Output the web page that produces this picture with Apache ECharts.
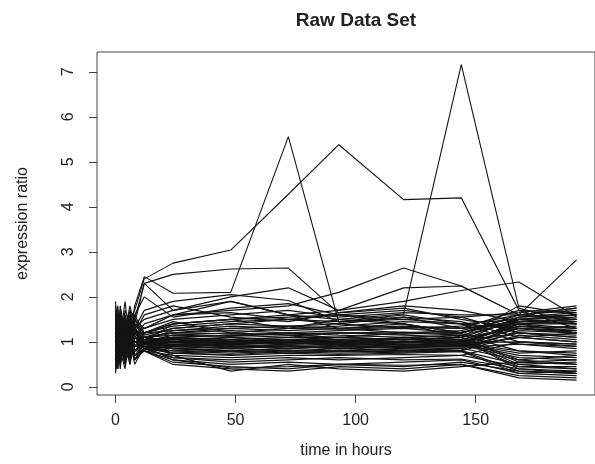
<!DOCTYPE html>
<html>
<head>
<meta charset="utf-8">
<script src="https://cdn.jsdelivr.net/npm/echarts@6/dist/echarts.min.js"></script>
<style>
  html, body { margin: 0; padding: 0; background: #fff; }
  #main { width: 595px; height: 464px; }
</style>
</head>
<body>
<div id="main"></div>
<script>
// sampling times (hours)
var times = [0, 1, 2, 4, 6, 8, 12, 24, 48, 72, 93, 120, 144, 168, 192];
var xTicks = [0, 50, 100, 150];
var yTicks = [0, 1, 2, 3, 4, 5, 6, 7];

// outlying profiles
var peak144 = [1.2, 0.8, 1.5, 0.9, 1.3, 1.1, 1.0, 1.4, 1.5, 1.3, 1.5, 1.62, 7.16, 1.75, 1.4];
var peak72  = [0.9, 1.4, 0.7, 1.6, 1.0, 1.8, 2.45, 2.08, 2.1, 5.56, 1.44, 1.55, 1.3, 1.4, 1.2];
var peak93  = [1.0, 1.3, 0.8, 1.2, 1.5, 1.7, 2.4, 2.75, 3.04, 4.28, 5.38, 4.16, 4.2, 1.7, 1.3];

// medium profiles
var mid = [
  [1.1, 0.9, 1.6, 1.2, 1.8, 1.4, 2.3, 2.5, 2.62, 2.64, 1.64, 1.75, 1.5, 1.3, 1.2],
  [0.8, 1.2, 1.0, 1.5, 0.9, 1.3, 1.7, 1.9, 2.05, 1.92, 1.45, 1.6, 1.4, 1.5, 1.6],
  [1.0, 0.7, 1.3, 1.1, 0.8, 1.2, 1.3, 1.6, 1.7, 1.8, 2.1, 2.64, 2.24, 1.6, 1.5],
  [1.3, 1.0, 0.8, 1.4, 1.1, 0.9, 1.2, 1.4, 1.5, 1.6, 1.7, 1.9, 2.14, 2.33, 1.56],
  [0.9, 1.1, 1.4, 0.8, 1.2, 1.0, 1.1, 1.3, 1.4, 1.5, 1.6, 1.4, 1.2, 1.6, 2.82],
  [1.5, 1.8, 1.2, 0.9, 1.6, 1.3, 1.5, 1.7, 2.0, 2.2, 1.7, 2.2, 2.24, 1.6, 1.7],
  [1.9, 1.3, 1.0, 1.7, 1.4, 1.1, 1.4, 1.6, 1.9, 1.6, 1.5, 1.4, 1.1, 1.8, 1.6],
  [1.2, 1.6, 0.9, 1.3, 1.7, 1.4, 1.3, 1.6, 1.65, 1.5, 1.4, 1.55, 1.45, 1.1, 1.0],
  [0.9, 1.2, 1.4, 0.7, 1.0, 1.2, 1.2, 1.45, 1.2, 1.3, 1.35, 1.45, 1.4, 1.0, 0.95],
  [1.4, 1.0, 1.8, 1.2, 0.8, 1.5, 2.3, 1.7, 1.9, 1.6, 1.3, 1.4, 1.2, 1.5, 1.4],
  [0.7, 1.5, 1.1, 1.9, 1.0, 1.6, 2.0, 1.55, 1.75, 1.85, 1.6, 1.7, 1.55, 1.2, 1.1],
  [1.6, 0.9, 1.7, 1.0, 1.5, 1.2, 1.6, 1.8, 1.55, 1.45, 1.65, 1.8, 1.7, 1.45, 1.5]
];

// main band of profiles
var band = [
  [0.6, 1.2, 0.9, 0.5, 1.1, 0.8, 1.0, 0.9, 0.95, 1.0, 0.9, 1.0, 0.95, 1.45, 1.5],
  [1.4, 0.8, 1.1, 1.3, 0.7, 1.0, 0.9, 1.0, 1.05, 0.95, 1.0, 1.1, 1.05, 0.5, 0.4],
  [0.4, 0.9, 1.5, 1.0, 1.2, 0.6, 0.95, 0.85, 0.9, 0.85, 0.9, 0.88, 0.92, 1.3, 1.25],
  [1.1, 1.5, 0.7, 0.9, 1.4, 1.2, 1.05, 1.1, 1.15, 1.1, 1.2, 1.15, 1.1, 0.6, 0.5],
  [0.8, 0.5, 1.2, 1.6, 0.9, 1.3, 1.1, 1.2, 1.3, 1.25, 1.3, 1.2, 1.25, 1.55, 1.65],
  [1.6, 1.1, 0.6, 1.2, 0.8, 0.7, 0.85, 0.75, 0.8, 0.75, 0.8, 0.78, 0.8, 0.35, 0.3],
  [0.3, 0.7, 1.0, 0.6, 1.5, 0.9, 1.0, 1.05, 1.0, 1.0, 1.05, 0.98, 1.0, 1.2, 1.1],
  [1.2, 1.4, 1.3, 0.8, 0.6, 1.1, 0.9, 0.95, 0.9, 0.92, 0.95, 0.9, 0.88, 0.95, 0.9],
  [0.7, 0.4, 0.9, 1.1, 1.3, 1.5, 1.15, 1.3, 1.4, 1.35, 1.4, 1.3, 1.35, 1.6, 1.75],
  [1.0, 1.6, 1.2, 0.7, 1.0, 0.8, 0.8, 0.7, 0.65, 0.7, 0.7, 0.72, 0.7, 0.45, 0.4],
  [0.5, 1.0, 0.7, 1.4, 0.6, 1.2, 0.95, 1.0, 0.95, 1.05, 1.0, 1.05, 1.0, 1.35, 1.3],
  [1.3, 0.6, 1.4, 1.0, 1.1, 0.5, 0.9, 0.6, 0.5, 0.55, 0.5, 0.55, 0.6, 0.3, 0.25],
  [0.9, 1.3, 0.5, 1.2, 0.9, 1.4, 1.1, 1.15, 1.2, 1.15, 1.1, 1.2, 1.15, 1.45, 1.4],
  [1.5, 1.0, 0.8, 0.4, 1.2, 0.9, 1.0, 0.9, 0.85, 0.9, 0.85, 0.9, 0.95, 0.7, 0.65],
  [0.6, 1.1, 1.7, 0.9, 0.7, 1.0, 1.05, 1.0, 1.1, 1.0, 1.1, 1.05, 1.1, 1.5, 1.55],
  [1.7, 0.9, 1.0, 1.5, 1.0, 1.2, 1.2, 1.35, 1.45, 1.5, 1.45, 1.5, 1.4, 1.3, 1.2],
  [0.35, 0.8, 0.6, 1.0, 1.4, 0.7, 0.8, 0.5, 0.4, 0.35, 0.45, 0.4, 0.5, 0.2, 0.15],
  [1.0, 1.2, 1.4, 1.1, 0.5, 1.0, 1.0, 1.0, 1.0, 0.98, 1.02, 1.0, 1.0, 1.4, 1.45],
  [0.8, 1.4, 1.0, 0.6, 1.1, 1.3, 0.95, 0.9, 0.95, 0.9, 0.92, 0.95, 0.9, 1.1, 1.0],
  [1.2, 0.7, 0.9, 1.3, 1.6, 0.8, 1.0, 1.1, 1.05, 1.1, 1.1, 1.05, 1.1, 0.55, 0.6],
  [0.5, 1.1, 1.3, 0.8, 0.9, 1.6, 1.2, 1.4, 1.5, 1.55, 1.6, 1.5, 1.55, 1.65, 1.8],
  [1.4, 0.9, 0.6, 1.1, 1.2, 0.9, 0.9, 0.8, 0.75, 0.8, 0.78, 0.8, 0.82, 1.25, 1.2],
  [1.1, 0.5, 1.1, 0.9, 0.7, 1.1, 1.0, 0.95, 1.0, 1.05, 0.95, 1.0, 1.05, 0.4, 0.35],
  [0.7, 1.3, 0.8, 1.3, 1.0, 0.6, 0.85, 0.65, 0.6, 0.65, 0.6, 0.65, 0.7, 1.0, 0.95],
  [1.8, 1.2, 1.5, 0.7, 1.3, 1.1, 1.1, 1.2, 1.25, 1.2, 1.25, 1.3, 1.2, 1.5, 1.45],
  [0.9, 0.6, 1.0, 1.5, 0.8, 0.9, 0.95, 1.0, 0.9, 0.95, 1.0, 0.95, 0.98, 0.8, 0.7],
  [1.0, 1.7, 0.7, 1.0, 1.1, 1.3, 1.05, 1.05, 1.1, 1.05, 1.0, 1.1, 1.05, 1.35, 1.25],
  [0.45, 1.0, 1.2, 0.5, 0.9, 0.8, 0.9, 0.85, 0.8, 0.85, 0.9, 0.85, 0.8, 0.5, 0.55],
  [1.3, 0.8, 0.9, 1.2, 1.5, 1.0, 1.0, 1.0, 1.05, 1.0, 1.05, 1.0, 1.02, 1.55, 1.6],
  [0.6, 1.5, 1.1, 0.8, 0.6, 1.2, 0.95, 1.05, 0.95, 1.0, 0.95, 1.02, 0.98, 1.0, 0.9],
  [1.1, 0.9, 0.4, 1.3, 1.0, 0.7, 0.8, 0.55, 0.45, 0.4, 0.5, 0.45, 0.55, 0.35, 0.3],
  [1.5, 1.3, 1.0, 0.6, 1.2, 1.4, 1.2, 1.25, 1.3, 1.35, 1.3, 1.35, 1.3, 1.45, 1.5],
  [0.8, 1.0, 1.6, 1.1, 0.7, 1.0, 1.0, 0.9, 0.95, 0.98, 1.0, 0.95, 0.92, 0.65, 0.6],
  [1.2, 0.6, 0.8, 1.4, 1.3, 0.9, 1.05, 1.1, 1.0, 1.05, 1.1, 1.05, 1.1, 1.3, 1.35],
  [0.4, 1.2, 0.9, 1.0, 0.5, 1.1, 0.9, 0.75, 0.7, 0.75, 0.72, 0.75, 0.78, 0.3, 0.35],
  [1.6, 1.4, 1.2, 0.9, 1.1, 1.5, 1.3, 1.5, 1.6, 1.7, 1.55, 1.65, 1.6, 1.6, 1.75],
  [1.0, 0.7, 1.3, 0.7, 1.4, 0.8, 0.95, 0.85, 0.88, 0.9, 0.85, 0.88, 0.9, 1.2, 1.15],
  [0.7, 1.1, 0.6, 1.2, 0.8, 1.3, 1.0, 0.7, 0.35, 0.5, 0.4, 0.35, 0.45, 0.55, 0.5],
  [1.3, 1.0, 1.2, 0.8, 0.9, 0.7, 0.85, 0.8, 0.85, 0.8, 0.85, 0.8, 0.85, 1.4, 1.4],
  [0.9, 1.5, 0.7, 1.1, 1.2, 1.0, 1.0, 1.1, 1.15, 1.2, 1.15, 1.1, 1.15, 0.8, 0.75],
  [1.1, 0.6, 1.3, 0.9, 1.5, 0.7, 0.95, 0.92, 0.98, 0.95, 0.97, 0.93, 0.96, 1.3, 1.2],
  [0.5, 1.3, 0.8, 1.6, 0.9, 1.1, 1.05, 1.08, 1.02, 1.06, 1.04, 1.07, 1.03, 0.45, 0.45],
  [1.4, 1.1, 1.6, 0.7, 1.0, 1.4, 1.1, 1.0, 0.88, 0.9, 0.88, 0.92, 0.9, 1.5, 1.6],
  [0.8, 0.4, 1.0, 1.3, 1.7, 0.9, 0.9, 0.85, 0.78, 0.82, 0.8, 0.84, 0.86, 0.6, 0.7],
  [1.2, 1.5, 0.9, 0.8, 0.6, 1.2, 1.0, 1.15, 1.12, 1.18, 1.2, 1.17, 1.22, 1.4, 1.3],
  [0.9, 0.8, 1.4, 1.2, 1.0, 0.6, 0.85, 0.65, 0.55, 0.6, 0.65, 0.6, 0.62, 0.4, 0.3],
  [1.6, 1.2, 0.7, 1.4, 0.8, 1.0, 1.05, 1.25, 1.35, 1.3, 1.28, 1.32, 1.3, 1.7, 1.65],
  [0.6, 0.9, 1.2, 0.6, 1.3, 0.8, 0.95, 0.88, 0.92, 0.86, 0.9, 0.87, 0.9, 1.1, 1.2],
  [1.0, 1.4, 0.5, 1.1, 0.7, 1.3, 1.0, 0.98, 1.0, 1.02, 0.98, 1.0, 0.97, 0.75, 0.8],
  [1.3, 0.7, 1.1, 0.5, 1.2, 0.9, 0.9, 0.75, 0.72, 0.78, 0.75, 0.77, 0.8, 1.15, 1.05],
  [0.7, 1.0, 1.5, 1.3, 0.9, 1.1, 1.1, 1.2, 1.18, 1.15, 1.2, 1.22, 1.18, 0.95, 0.85],
  [1.5, 0.9, 0.8, 1.0, 1.4, 0.6, 0.8, 0.6, 0.42, 0.45, 0.5, 0.48, 0.5, 0.25, 0.2]
];

var chart = echarts.init(document.getElementById('main'), null, { renderer: 'canvas' });

var profiles = [peak144, peak72, peak93].concat(mid, band);
var series = profiles.map(function (row) {
  return {
    type: 'line',
    data: times.map(function (t, i) { return [t, row[i]]; }),
    symbol: 'none',
    silent: true,
    lineStyle: { color: '#141414', width: 1.1 }
  };
});

var axisColor = '#444';
var fontFamily = 'Liberation Sans, Arial, Helvetica, sans-serif';

var option = {
  animation: false,
  backgroundColor: '#fff',
  title: {
    text: 'Raw Data Set',
    left: 351,
    top: 6,
    textAlign: 'center',
    textStyle: { fontSize: 19, fontWeight: 'bold', color: '#222', fontFamily: fontFamily }
  },
  grid: {
    left: 97, top: 52, right: -11, bottom: 69,
    show: true, borderColor: axisColor, borderWidth: 1,
    containLabel: false
  },
  xAxis: {
    type: 'value',
    min: -7.68, max: 199.68,
    name: 'time in hours',
    nameLocation: 'middle',
    nameGap: 48,
    nameTextStyle: { fontSize: 16, color: '#222', fontFamily: fontFamily },
    axisLine: { show: false, onZero: false },
    splitLine: { show: false },
    axisTick: { show: true, length: 8, customValues: xTicks, lineStyle: { color: axisColor } },
    axisLabel: { customValues: xTicks, margin: 18, fontSize: 16, color: '#222', fontFamily: fontFamily }
  },
  yAxis: {
    type: 'value',
    min: -0.18, max: 7.44,
    name: 'expression ratio',
    nameLocation: 'middle',
    nameGap: 66,
    nameTextStyle: { fontSize: 16, color: '#222', fontFamily: fontFamily },
    axisLine: { show: false, onZero: false },
    splitLine: { show: false },
    axisTick: { show: true, length: 8, customValues: yTicks, lineStyle: { color: axisColor } },
    axisLabel: { customValues: yTicks, rotate: 90, margin: 20, fontSize: 16, color: '#222', fontFamily: fontFamily }
  },
  series: series
};

chart.setOption(option);
</script>
</body>
</html>
